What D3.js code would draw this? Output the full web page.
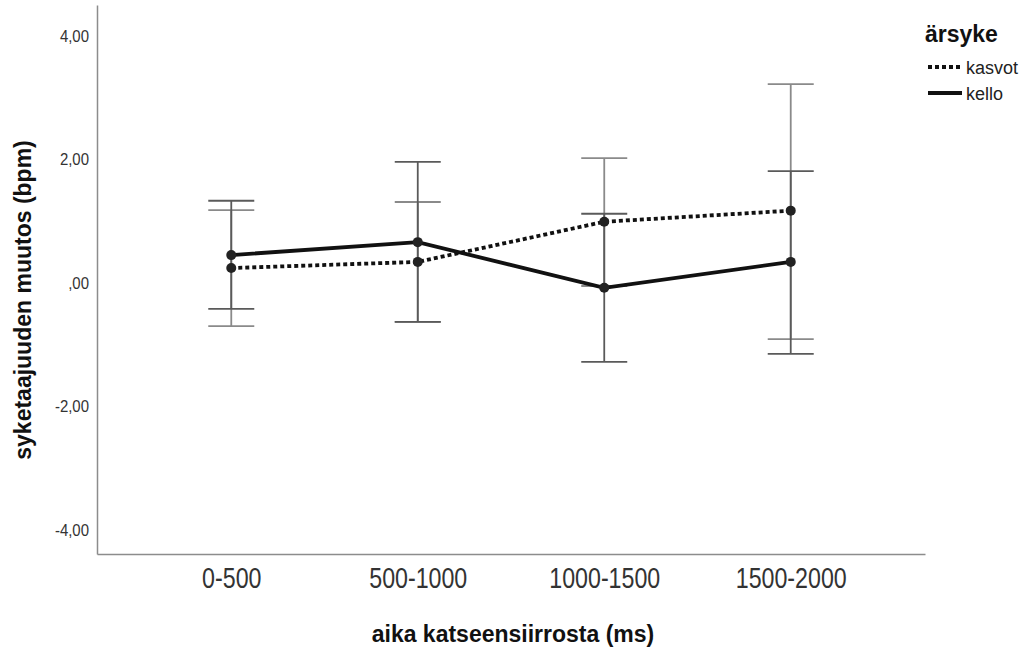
<!DOCTYPE html>
<html>
<head>
<meta charset="utf-8">
<script src="https://cdn.jsdelivr.net/npm/d3@7"></script>
<style>
  body { margin: 0; background: #fff; }
  text { font-family: "Liberation Sans", Arial, sans-serif; }
</style>
</head>
<body>
<svg id="chart" width="1028" height="652"></svg>
<script>
// Categories and values
var categories = ["0-500", "500-1000", "1000-1500", "1500-2000"];
var yTicks = [-4, -2, 0, 2, 4];

var kasvotMean = [0.24, 0.34, 0.99, 1.17];
var kasvotLow  = [-0.70, -0.63, -0.05, -0.91];
var kasvotHigh = [1.18, 1.31, 2.02, 3.22];

var kelloMean = [0.45, 0.66, -0.08, 0.34];
var kelloLow  = [-0.42, -0.63, -1.28, -1.15];
var kelloHigh = [1.33, 1.96, 1.12, 1.81];

var series = [
    { name: "kasvot", mean: kasvotMean, low: kasvotLow, high: kasvotHigh, dash: "4,3", bar: "#8a8a8a" },
    { name: "kello", mean: kelloMean, low: kelloLow, high: kelloHigh, dash: null, bar: "#5a5a5a" }
];

// Plot frame
var plotLeft = 97, plotRight = 925, plotTop = 5, plotBottom = 554;

var svg = d3.select("#chart");

var xScale = d3.scalePoint()
    .domain(categories)
    .range([plotLeft, plotRight])
    .padding(0.72);

var yScale = d3.scaleLinear()
    .domain([-4.39, 4.5])
    .range([plotBottom, plotTop]);

// Axes (no tick marks, just the frame lines)
var fmt = function (v) {
    if (v === 0) return ",00";
    return d3.format(".2f")(v).replace(".", ",").replace("−", "-");
};

var yAxis = svg.append("g")
    .attr("transform", "translate(" + plotLeft + ",0)")
    .call(d3.axisLeft(yScale).tickValues(yTicks).tickSize(0).tickPadding(8).tickFormat(fmt));
yAxis.select(".domain").attr("stroke", "#8c8c8c").attr("stroke-width", 1.5);
yAxis.selectAll("text")
    .attr("font-size", 17)
    .attr("fill", "#333")
    .attr("transform", "scale(0.88,1)")
    .attr("x", -8 / 0.88);

var xAxis = svg.append("g")
    .attr("transform", "translate(0," + plotBottom + ")")
    .call(d3.axisBottom(xScale).tickSize(0).tickPadding(13));
xAxis.select(".domain").attr("stroke", "#8c8c8c").attr("stroke-width", 1.5);
xAxis.selectAll("text")
    .attr("font-size", 29)
    .attr("fill", "#333")
    .attr("transform", "scale(0.8,1)");

// Axis titles
svg.append("text")
    .text("aika katseensiirrosta (ms)")
    .attr("x", 513)
    .attr("y", 642)
    .attr("text-anchor", "middle")
    .attr("font-size", 23)
    .attr("font-weight", "bold")
    .attr("fill", "#111");

svg.append("text")
    .text("syketaajuuden muutos (bpm)")
    .attr("transform", "translate(31,300) rotate(-90)")
    .attr("text-anchor", "middle")
    .attr("font-size", 23)
    .attr("font-weight", "bold")
    .attr("fill", "#111");

// Error bars
var capHalf = 23;
series.forEach(function (s) {
    var g = svg.append("g").attr("stroke", s.bar).attr("stroke-width", 1.8);
    categories.forEach(function (c, i) {
        var x = xScale(c);
        g.append("line")
            .attr("x1", x).attr("x2", x)
            .attr("y1", yScale(s.low[i])).attr("y2", yScale(s.high[i]));
        [s.low[i], s.high[i]].forEach(function (v) {
            g.append("line")
                .attr("x1", x - capHalf).attr("x2", x + capHalf)
                .attr("y1", yScale(v)).attr("y2", yScale(v));
        });
    });
});

// Mean lines and points
var line = d3.line()
    .x(function (d, i) { return xScale(categories[i]); })
    .y(function (d) { return yScale(d); });

series.forEach(function (s) {
    svg.append("path")
        .datum(s.mean)
        .attr("d", line)
        .attr("fill", "none")
        .attr("stroke", "#111")
        .attr("stroke-width", 3.8)
        .attr("stroke-dasharray", s.dash);

    svg.selectAll(null)
        .data(s.mean)
        .enter()
        .append("circle")
        .attr("cx", function (d, i) { return xScale(categories[i]); })
        .attr("cy", function (d) { return yScale(d); })
        .attr("r", 5)
        .attr("fill", "#222");
});

// Legend
var legend = svg.append("g");
legend.append("text")
    .text("ärsyke")
    .attr("x", 925)
    .attr("y", 42)
    .attr("font-size", 23)
    .attr("font-weight", "bold")
    .attr("fill", "#111");

series.forEach(function (s, i) {
    var y = 67 + i * 26;
    legend.append("line")
        .attr("x1", 928).attr("x2", 962)
        .attr("y1", y).attr("y2", y)
        .attr("stroke", "#111")
        .attr("stroke-width", 4)
        .attr("stroke-dasharray", s.dash);
    legend.append("text")
        .text(s.name)
        .attr("x", 966)
        .attr("y", y + 7)
        .attr("font-size", 18)
        .attr("fill", "#222");
});
</script>
</body>
</html>
